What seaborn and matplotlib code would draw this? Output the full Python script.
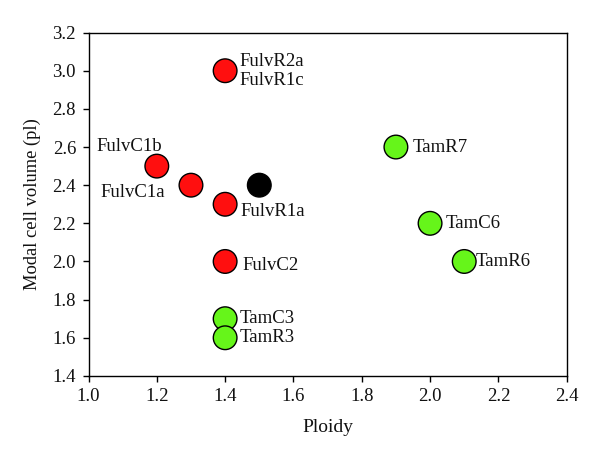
import matplotlib
matplotlib.use("Agg")
import matplotlib.pyplot as plt
import seaborn as sns
import pandas as pd

ploidy = [1.4, 1.2, 1.3, 1.4, 1.4, 1.5, 1.9, 2.0, 2.1, 1.4, 1.4]
volume = [3.0, 2.5, 2.4, 2.3, 2.0, 2.4, 2.6, 2.2, 2.0, 1.7, 1.6]
group = ["Fulv", "Fulv", "Fulv", "Fulv", "Fulv", "Other", "Tam", "Tam", "Tam", "Tam", "Tam"]
labels = ["FulvR2a\nFulvR1c", "FulvC1b", "FulvC1a", "FulvR1a", "FulvC2", "",
          "TamR7", "TamC6", "TamR6", "TamC3", "TamR3"]
# label offsets in points (dx, dy) and alignment
offsets = [(10.5, 0, "left"), (4, 14, "right"), (-19, -5, "right"), (11, -5, "left"),
           (12.5, -3, "left"), (0, 0, "left"), (12, 0, "left"), (11, 0, "left"),
           (8.5, 0, "left"), (10.5, 0, "left"), (10.5, 0, "left")]
xticks = [1.0, 1.2, 1.4, 1.6, 1.8, 2.0, 2.2, 2.4]
yticks = [1.4, 1.6, 1.8, 2.0, 2.2, 2.4, 2.6, 2.8, 3.0, 3.2]

df = pd.DataFrame({"Ploidy": ploidy, "Volume": volume, "Group": group})

sns.set_style("ticks")
plt.rcParams["font.family"] = ["Liberation Serif", "DejaVu Serif"]

fig = plt.figure(figsize=(6, 4.59), dpi=100)
ax = fig.add_axes([0.1475, 0.181, 0.797, 0.748])

palette = {"Fulv": "#ff0f0f", "Other": "#000000", "Tam": "#66f51a"}
sns.scatterplot(data=df, x="Ploidy", y="Volume", hue="Group", palette=palette,
                s=290, edgecolor="black", linewidth=1.0, legend=False, ax=ax, zorder=3)

for x, y, lab, (dx, dy, ha) in zip(ploidy, volume, labels, offsets):
    if lab:
        ax.annotate(lab, (x, y), xytext=(dx, dy), textcoords="offset points",
                    ha=ha, va="center", fontsize=13.5, linespacing=1.15,
                    color="#111111")

ax.set_xlim(1.0, 2.4)
ax.set_ylim(1.4, 3.2)
ax.set_xticks(xticks)
ax.set_yticks(yticks)
ax.set_xticklabels([f"{v:.1f}" for v in xticks], fontsize=13.5)
ax.set_yticklabels([f"{v:.1f}" for v in yticks], fontsize=13.5)
ax.tick_params(direction="out", length=4, width=1.0, colors="black", top=False, right=False,
               labelcolor="#111111", pad=5)
for sp in ax.spines.values():
    sp.set_visible(True)
    sp.set_color("black")
    sp.set_linewidth(1.0)
ax.set_xlabel("Ploidy", fontsize=14, labelpad=10, color="#111111")
ax.set_ylabel("Modal cell volume (pl)", fontsize=13.3, labelpad=8, color="#111111")

fig.savefig("out.png", dpi=100)
